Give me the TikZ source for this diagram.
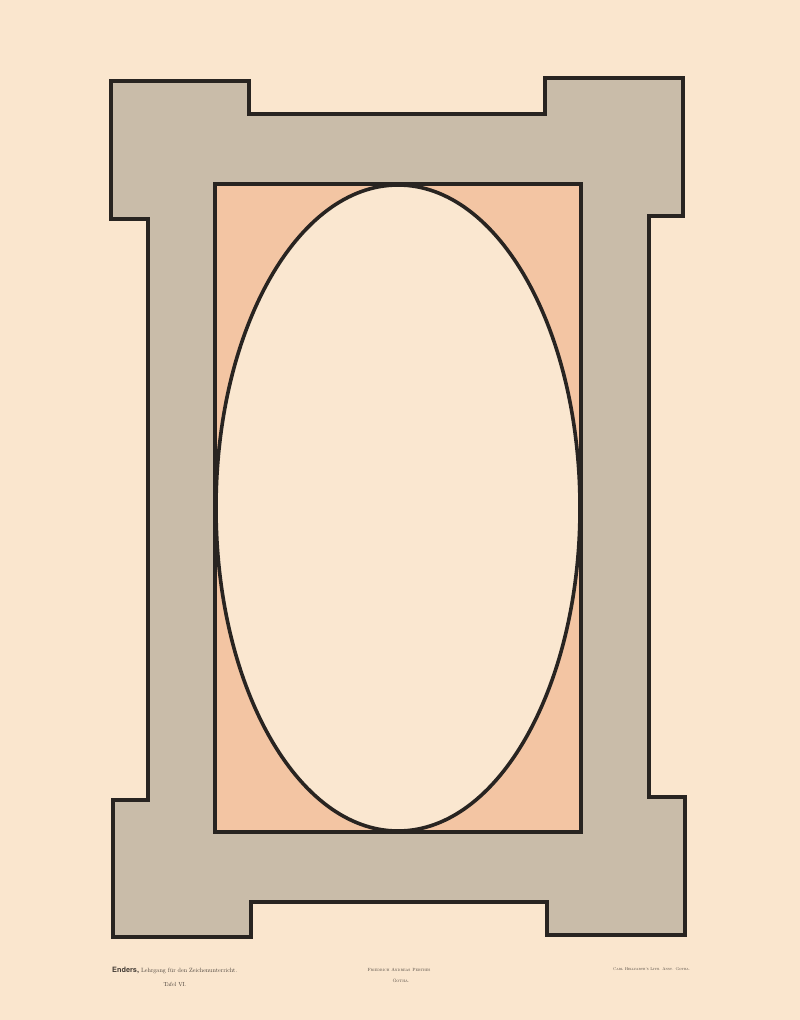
\documentclass[tikz,border=0pt]{standalone}
\usepackage{fontspec}
\setsansfont{TeX Gyre Heros}
\definecolor{paper}{RGB}{250,230,206}
\definecolor{framegray}{RGB}{201,188,169}
\definecolor{pinkfill}{RGB}{243,197,163}
\definecolor{ovalfill}{RGB}{250,231,208}
\definecolor{ink}{RGB}{40,36,33}
\definecolor{textink}{RGB}{70,62,55}
\tikzset{
  outline/.style={draw=ink, line width=3.6pt, line join=miter},
  smalltext/.style={text=textink, inner sep=0pt},
}
\begin{document}
\begin{tikzpicture}[x=1pt,y=-1pt]
\fill[paper] (0,0) rectangle (800,1020);
\useasboundingbox (0,0) rectangle (800,1020);
% frame
\draw[outline, fill=framegray]
  (111,81) -- (249,81) -- (249,114) -- (545,114) -- (545,78) -- (683,78)
  -- (683,216) -- (649,216) -- (649,797) -- (685,797) -- (685,935)
  -- (547,935) -- (547,902) -- (251,902) -- (251,937) -- (113,937)
  -- (113,800) -- (148,800) -- (148,219) -- (111,219) -- cycle;
% inner panel
\draw[outline, fill=pinkfill] (215,184) rectangle (581,832);
% oval
\draw[outline, fill=ovalfill] (398,508) ellipse [x radius=182, y radius=323];
% captions
\node[smalltext, anchor=west] (enders) at (112,970)
  {\resizebox{125pt}{!}{{\sffamily\bfseries\large Enders,}\ Lehrgang für den Zeichenunterricht.}};
\node[smalltext] (tafel) at (175,984) {\resizebox{23pt}{!}{Tafel VI.}};
\node[smalltext] (verlag) at (399,970) {\resizebox{63pt}{!}{\textsc{Friedrich Andreas Perthes}}};
\node[smalltext] (gotha) at (401,981) {\resizebox{17pt}{!}{\textsc{Gotha.}}};
\node[smalltext, anchor=west] (lith) at (613,969) {\resizebox{77pt}{!}{\textsc{Carl Hellfarth's Lith. Anst. Gotha.}}};
\end{tikzpicture}
\end{document}
